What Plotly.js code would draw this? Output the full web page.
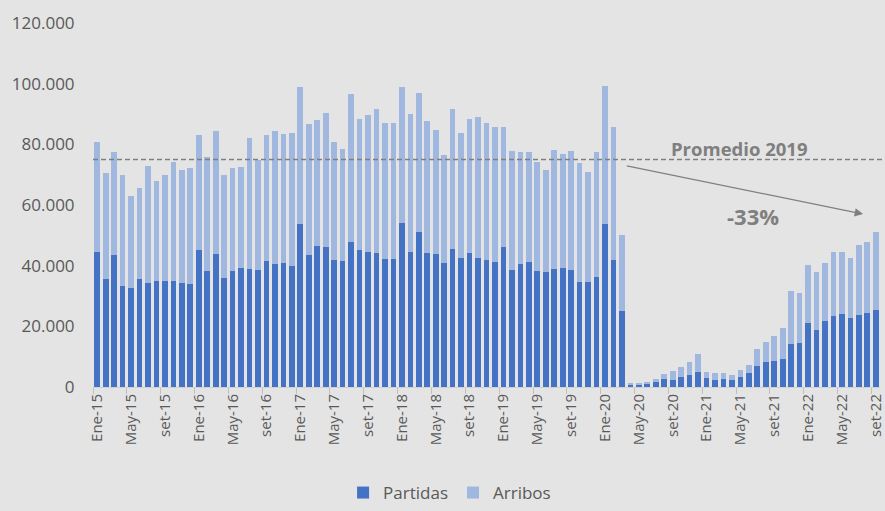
<!DOCTYPE html>
<html>
<head>
<meta charset="utf-8">
<script src="https://cdn.plot.ly/plotly-3.0.1.min.js"></script>
<style>html,body{margin:0;padding:0;background:#E4E4E4;}#chart{width:885px;height:511px;}</style>
</head>
<body>
<div id="chart"></div>
<script>
// Month labels (Spanish) and years: Ene-15 .. set-22
const monthNames = ["Ene","Feb","Mar","Abr","May","Jun","Jul","Ago","set","Oct","Nov","Dic"];
const years = ["15","16","17","18","19","20","21","22"];
const lastMonthIndex2022 = 8; // set-22

const categories = [];
years.forEach((y, yi) => {
  monthNames.forEach((m, mi) => {
    if (yi === years.length - 1 && mi > lastMonthIndex2022) return;
    categories.push(m + "-" + y);
  });
});

const partidas = [
  44510, 35500, 43410, 33190, 32750, 35720, 34400, 35060, 35060, 34840, 34180, 33850,
  45170, 38250, 43850, 35940, 38250, 39130, 38900, 38470, 41650, 40440, 40780, 39790,
  53850, 43410, 46380, 46050, 41980, 41540, 47920, 45170, 44510, 44290, 42090, 42090,
  54070, 44510, 51100, 44070, 43850, 40780, 45500, 42530, 44290, 42640, 41760, 41100,
  46050, 38570, 40440, 41100, 38130, 37920, 38790, 39230, 38570, 34510, 34510, 36270,
  53740, 41980, 25060, 800, 800, 900, 1650, 2530, 2200, 3300, 3850, 4840,
  3080, 2200, 2740, 2420, 3410, 4620, 6810, 8130, 8680, 9230, 14290, 14510,
  21210, 18900, 21870, 23300, 23960, 22640, 23630, 24290, 25280
];

const arribos = [
  36370, 35160, 34070, 36810, 30220, 29890, 38350, 32750, 34730, 39230, 37250, 38460,
  37910, 37580, 40660, 34060, 34060, 33400, 43090, 36480, 41430, 44070, 42630, 44060,
  45060, 43300, 41540, 44180, 38680, 36810, 48570, 43190, 45170, 47480, 45060, 44840,
  44840, 45500, 45830, 43630, 40880, 35710, 46270, 41100, 44180, 46490, 45170, 44620,
  39670, 39240, 37150, 36490, 36160, 33620, 39450, 37480, 39240, 39230, 36370, 41100,
  45610, 43740, 25050, 520, 520, 640, 950, 1670, 3000, 3400, 4250, 6160,
  2020, 2500, 1990, 1650, 2310, 2520, 5610, 6820, 8250, 10110, 17250, 16370,
  18900, 19020, 19130, 21320, 20660, 19780, 23300, 23520, 25710
];

const promedio2019 = 75000;
const promedioLabel = "Promedio 2019";
const variacionLabel = "-33%";
// arrow from end of 2019 average area to latest month
const arrowStart = {x: 62.4, y: 73000};
const arrowEnd = {x: 90.5, y: 57000};

const gray = "#7F7F7F";
const textGray = "#595959";
const fontFam = "'Open Sans', 'Noto Sans', sans-serif";

const traces = [
  {type: "bar", name: "Partidas", x: categories, y: partidas,
   marker: {color: "#4472C4"}, hoverinfo: "skip"},
  {type: "bar", name: "Arribos", x: categories, y: arribos,
   marker: {color: "#A0B7E0"}, hoverinfo: "skip"}
];

const layout = {
  width: 885, height: 511,
  paper_bgcolor: "#E4E4E4", plot_bgcolor: "#E4E4E4",
  margin: {l: 93, r: 5, t: 23, b: 124},
  barmode: "stack", bargap: 0.33,
  separators: ",.",
  font: {family: fontFam, color: textGray},
  xaxis: {
    type: "category",
    tickmode: "linear", tick0: 0, dtick: 4,
    tickson: "boundaries",
    ticks: "outside", ticklen: 6, tickcolor: "#BFBFBF",
    tickangle: -90,
    tickfont: {size: 15, color: textGray, family: fontFam},
    showline: true, linecolor: "#D0D0D0", linewidth: 1,
    showgrid: false, zeroline: false,
    range: [-0.5, categories.length - 0.5]
  },
  yaxis: {
    range: [0, 120000], dtick: 20000, tickformat: ",d",
    showgrid: false, zeroline: false, showline: false,
    ticks: "outside", ticklen: 14, tickcolor: "rgba(0,0,0,0)",
    tickfont: {size: 17, color: textGray, family: fontFam}
  },
  showlegend: true,
  legend: {
    orientation: "h", traceorder: "normal",
    xref: "container", x: 0.508, xanchor: "center",
    yref: "container", y: 0.0, yanchor: "bottom",
    font: {size: 17, color: textGray, family: fontFam},
    itemwidth: 30, tracegroupgap: 0
  },
  shapes: [
    {type: "line", xref: "paper", x0: 0, x1: 1.01, yref: "y", y0: promedio2019, y1: promedio2019,
     line: {color: gray, width: 1.5, dash: "5px,3px"}}
  ],
  annotations: [
    {xref: "paper", yref: "paper", x: 0.821, y: 0.655, xanchor: "center", yanchor: "middle",
     text: "<b>" + promedioLabel + "</b>",
     showarrow: false, font: {size: 18.5, color: gray, family: fontFam}},
    {xref: "paper", yref: "paper", x: 0.838, y: 0.470, xanchor: "center", yanchor: "middle",
     text: "<b>" + variacionLabel + "</b>",
     showarrow: false, font: {size: 22, color: gray, family: fontFam}},
    {xref: "x", yref: "y", x: arrowEnd.x, y: arrowEnd.y,
     axref: "x", ayref: "y", ax: arrowStart.x, ay: arrowStart.y,
     text: "", showarrow: true, arrowhead: 2, arrowsize: 1.4, arrowwidth: 1.2,
     arrowcolor: gray}
  ]
};

Plotly.newPlot("chart", traces, layout, {staticPlot: true, displayModeBar: false});
</script>
</body>
</html>
